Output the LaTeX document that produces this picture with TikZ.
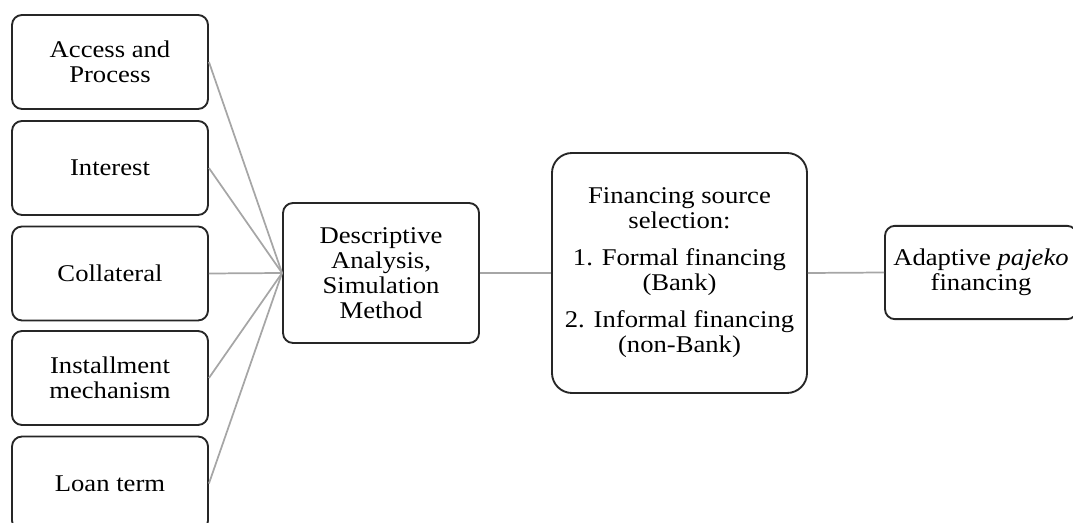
\documentclass[tikz,border=0pt]{standalone}
\usepackage{fontspec}
\setmainfont{Liberation Serif}[FakeStretch=1.11]
\begin{document}
\setlength{\lineskiplimit}{-8pt}%
\begin{tikzpicture}[x=0.75pt,y=-0.75pt,
  box/.style={draw=black!85, line width=1.4pt, rounded corners=7.5pt, align=center, inner sep=0pt,
    font=\fontsize{18}{18.75}\selectfont},
  small/.style={box, minimum width=147pt, minimum height=70.5pt},
  link/.style={draw=gray!70, line width=1.3pt}]
\useasboundingbox (0,0) rectangle (1073,523);
\clip (0,0) rectangle (1073,523);
\node[small] (a1) at (110,62) {Access and\\Process};
\node[small] (a2) at (110,168) {Interest};
\node[small] (a3) at (110,273.5) {Collateral};
\node[small] (a4) at (110,378) {Installment\\mechanism};
\node[small] (a5) at (110,483.5) {Loan term};
\node[box, minimum width=147pt, minimum height=105pt] (d) at (381,273) {Descriptive\\Analysis,\\Simulation\\Method};
\node[box, rounded corners=15pt, minimum width=191.25pt, minimum height=180pt] (f) at (679.5,273)
  {Financing source\\selection:\\[9pt]1. Formal financing\\(Bank)\\[9pt]2. Informal financing\\(non-Bank)};
\node[box, minimum width=144pt, minimum height=70pt] (p) at (981,272.5) {Adaptive \textit{pajeko}\\financing};
\foreach \i in {1,...,5} {\draw[link] (a\i.east) -- (d.west);}
\draw[link] (d.east) -- (f.west);
\draw[link] (f.east) -- (p.west);
\end{tikzpicture}
\end{document}
